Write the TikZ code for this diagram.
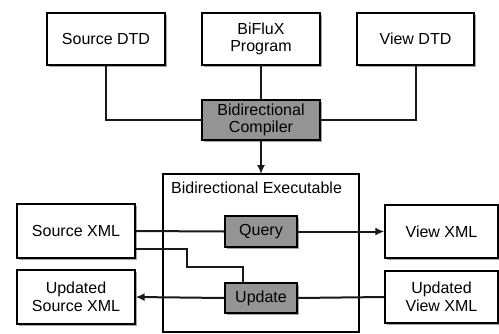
\documentclass[tikz,border=0pt]{standalone}
\usepackage{fontspec}
\setmainfont{Liberation Sans}
\usetikzlibrary{arrows.meta,shadows}
\begin{document}
\begin{tikzpicture}[x=1pt,y=-1pt,
  font=\fontsize{16}{17.5}\selectfont,
  shade/.style={drop shadow={shadow xshift=1.5pt,shadow yshift=-1.5pt,opacity=0.35,fill=black}},
  doc/.style={draw=black,line width=1.4pt,fill=white,align=center,inner sep=0pt,shade},
  proc/.style={draw=black,line width=1.4pt,fill=black!42,align=center,inner sep=0pt,shade},
  wire/.style={line width=2pt,draw=black!90},
  tip/.style={-{Latex[length=9pt,width=8pt]}}]
\useasboundingbox (0,0) rectangle (499,333);

% executable container
\draw[line width=1.4pt,fill=white] (163,174) rectangle (359,332);
\node[anchor=west,inner sep=0pt] (exlabel) at (171,188) {Bidirectional Executable};

% compiler inputs
\node[doc,minimum width=118pt,minimum height=52pt] (sdtd) at (106,39) {Source DTD};
\node[doc,minimum width=118pt,minimum height=52pt] (prog) at (261,39) {BiFluX\\Program};
\node[doc,minimum width=117pt,minimum height=52pt] (vdtd) at (415.5,39) {View DTD};
\node[proc,minimum width=118pt,minimum height=40pt] (comp) at (261,120) {Bidirectional\\Compiler};

% documents
\node[doc,minimum width=118pt,minimum height=54pt] (sxml) at (76,231) {Source XML};
\node[doc,minimum width=118pt,minimum height=54pt] (usxml) at (76,297) {Updated\\Source XML};
\node[doc,minimum width=113pt,minimum height=53pt] (vxml) at (441.5,231.5) {View XML};
\node[doc,minimum width=113pt,minimum height=52pt] (uvxml) at (441.5,297) {Updated\\View XML};

% executable parts
\node[proc,minimum width=72pt,minimum height=31pt] (query) at (261,231.5) {Query};
\node[proc,minimum width=72pt,minimum height=30pt] (update) at (261,298) {Update};

\coordinate (exTop) at (261,174);

% compiler connections
\draw[wire] (sdtd.south) |- (comp.west);
\draw[wire] (vdtd.south) |- (comp.east);
\draw[wire] (prog.south) -- (comp.north);
\draw[wire,tip] (comp.south) -- (exTop);

% forward and backward transformation
\draw[wire] (sxml.east) -- (query.west);
\draw[wire,tip] (query.east) -- (vxml.west);
\draw[wire] ([yshift=-18pt]sxml.east) -- ++(51,0) -- ++(0,18) -| ([xshift=-18pt]update.north);
\draw[wire] (uvxml.west) -- (update.east);
\draw[wire,tip] (update.west) -- (usxml.east);
\end{tikzpicture}
\end{document}
